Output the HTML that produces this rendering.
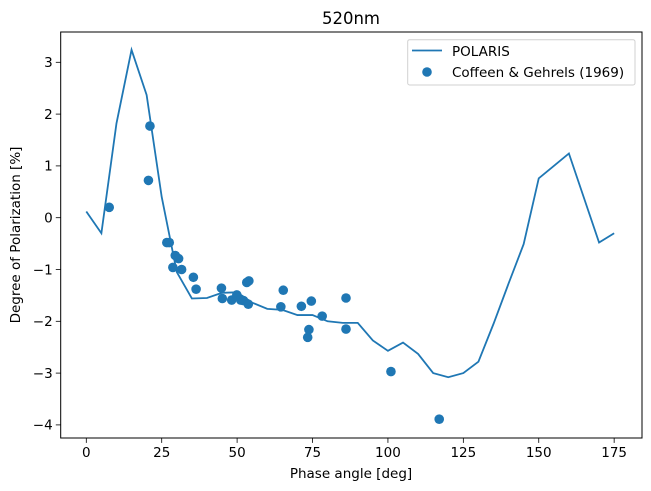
<!DOCTYPE html>
<html><head><meta charset="utf-8"><style>
body{margin:0;background:#fff;}
svg{display:block;font-family:"DejaVu Sans","Liberation Sans",sans-serif;}
</style></head><body>
<svg id="chart" width="651" height="491" viewBox="0 0 651 491"></svg>
<script>
const xTicks=[0,25,50,75,100,125,150,175];
const yTicks=[3,2,1,0,-1,-2,-3,-4];
const lineX=[0,5,10,15,20,25,30,35,40,45,50,55,60,65,70,75,80,85,90,95,100,105,110,115,120,125,130,135,140,145,150,155,160,165,170,175];
const lineY=[0.12,-0.30,1.82,3.24,2.37,0.40,-1.05,-1.56,-1.55,-1.45,-1.44,-1.64,-1.76,-1.78,-1.88,-1.88,-2.0,-2.03,-2.03,-2.37,-2.57,-2.41,-2.63,-3.00,-3.08,-3.0,-2.78,-2.05,-1.27,-0.51,0.76,1.0,1.24,0.38,-0.48,-0.30];
const obsX=[7.6,21.1,20.6,26.7,27.5,29.5,30.6,28.7,31.6,35.5,36.4,44.8,45.1,48.2,49.9,51.2,52.1,53.7,53.2,53.9,65.3,64.5,71.3,74.6,73.8,73.4,78.2,86.1,86.1,101.0,117.0];
const obsY=[0.20,1.77,0.72,-0.48,-0.48,-0.73,-0.79,-0.96,-1.0,-1.15,-1.38,-1.36,-1.56,-1.59,-1.49,-1.59,-1.60,-1.67,-1.25,-1.22,-1.40,-1.72,-1.71,-1.61,-2.16,-2.31,-1.90,-1.55,-2.15,-2.97,-3.89];

const NS="http://www.w3.org/2000/svg";
const svg=document.getElementById('chart');
const L=60.7,R=642,T=32,B=438;
const sx=v=>86.3+v*3.0163;
const sy=v=>217.7-v*51.8;
function mk(tag,attrs,parent){const e=document.createElementNS(NS,tag);for(const k in attrs)e.setAttribute(k,attrs[k]);(parent||svg).appendChild(e);return e;}

const frame=mk('rect',{x:L,y:T,width:R-L,height:B-T,fill:'none',stroke:'#000','stroke-width':1});



xTicks.forEach(v=>{
  const g=mk('g',{});
  
  
  mk('line',{x1:sx(v),x2:sx(v),y1:B,y2:B+4.9,stroke:'#000','stroke-width':0.8},g);
  const t=mk('text',{x:sx(v),y:B+19,'text-anchor':'middle','font-size':'13.5'},g);t.textContent=v;
});
yTicks.forEach(v=>{
  const g=mk('g',{});
  
  
  mk('line',{x1:L-4.9,x2:L,y1:sy(v),y2:sy(v),stroke:'#000','stroke-width':0.8},g);
  const t=mk('text',{x:L-8,y:sy(v)+4.8,'text-anchor':'end','font-size':'13.5'},g);t.textContent=(v<0?'\u2212'+(-v):v);
});

const pl=mk('polyline',{points:lineX.map((x,i)=>sx(x)+','+sy(lineY[i])).join(' '),fill:'none',stroke:'#1f77b4','stroke-width':1.8});



obsX.forEach((x,i)=>{
  const c=mk('circle',{cx:sx(x),cy:sy(obsY[i]),r:4.8,fill:'#1f77b4'});
  
  
});

const title=mk('text',{x:351,y:24,'text-anchor':'middle','font-size':'16.5'});title.textContent='520nm';


const xl=mk('text',{x:351,y:478,'text-anchor':'middle','font-size':'13.5'});xl.textContent='Phase angle [deg]';


const yl=mk('text',{x:0,y:0,'text-anchor':'middle','font-size':'13.5',transform:'translate(20,235) rotate(-90)'});yl.textContent='Degree of Polarization [%]';



const lg=mk('g',{});


mk('rect',{x:407.7,y:39.7,width:227.3,height:45.3,rx:2,fill:'#fff',stroke:'#ccc','stroke-width':1,opacity:0.9},lg);
const e1=mk('g',{},lg);


mk('line',{x1:412,x2:442,y1:50.5,y2:50.5,stroke:'#1f77b4','stroke-width':1.8},e1);
const t1=mk('text',{x:452,y:56,'font-size':'13.5'},e1);t1.textContent='POLARIS';
const e2=mk('g',{},lg);


mk('circle',{cx:427,cy:72,r:4.8,fill:'#1f77b4'},e2);
const t2=mk('text',{x:452,y:77,'font-size':'13.5'},e2);t2.textContent='Coffeen & Gehrels (1969)';
</script>
</body></html>
